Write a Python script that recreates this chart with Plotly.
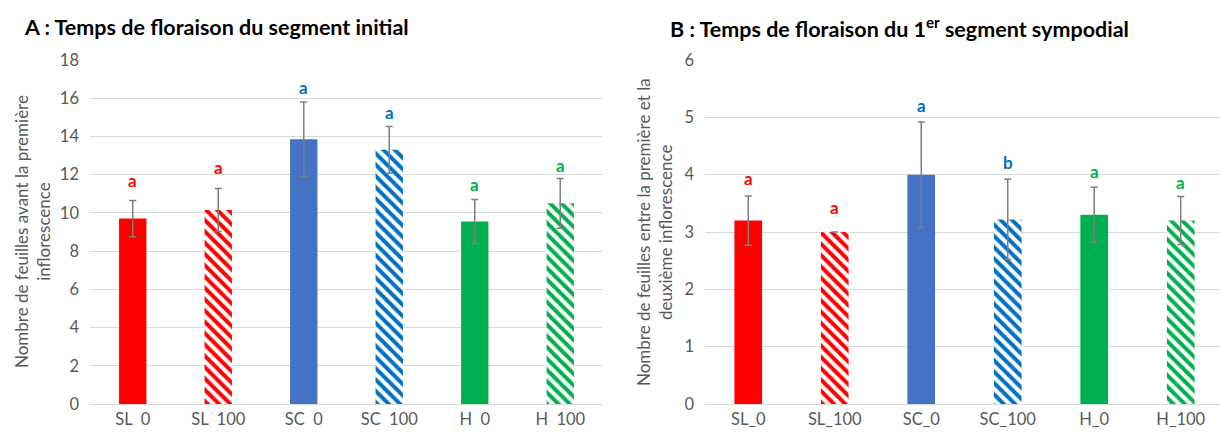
import plotly.graph_objects as go

W, H = 1220, 436

# Treatments
categories_a = ["SL\u00a0 0", "SL\u00a0 100", "SC\u00a0 0", "SC\u00a0 100", "H\u00a0 0", "H\u00a0 100"]
categories_b = ["SL_0", "SL_100", "SC_0", "SC_100", "H_0", "H_100"]

# A: leaves before the first inflorescence
means_a = [9.7, 10.15, 13.85, 13.3, 9.55, 10.5]
errors_a = [0.95, 1.13, 1.95, 1.22, 1.15, 1.3]
letters_a = ["a", "a", "a", "a", "a", "a"]
letter_pos_a = [11.72, 12.36, 16.55, 15.25, 11.5, 12.48]

# B: leaves between the first and second inflorescence
means_b = [3.2, 3.0, 4.0, 3.22, 3.3, 3.2]
errors_b = [0.43, 0.0, 0.92, 0.7, 0.48, 0.42]
letters_b = ["a", "a", "a", "b", "a", "a"]
letter_pos_b = [3.93, 3.43, 5.2, 4.22, 4.06, 3.87]

# Styling per bar: solid fill for 0, diagonal hatch for 100
bar_colors = ["#FF0000", "#FF0000", "#4472C4", "#0070C0", "#00B050", "#00B050"]
hatched = [False, True, False, True, False, True]
letter_colors = ["#FF0000", "#FF0000", "#0070C0", "#0070C0", "#00B050", "#00B050"]

FONT = "Lato"
GRID = "#D9D9D9"
TXT = "#595959"

fig = go.Figure()


def add_panel(means, errs, xa, ya):
    for i, (m, e) in enumerate(zip(means, errs)):
        if hatched[i]:
            marker = dict(color="#FFFFFF", opacity=1, line=dict(width=0),
                          pattern=dict(shape="\\", fgcolor=bar_colors[i], bgcolor="#FFFFFF",
                                       fgopacity=1, size=8, solidity=0.5))
        else:
            marker = dict(color=bar_colors[i], opacity=1, line=dict(width=0))
        fig.add_trace(go.Bar(
            x=[i], y=[m], width=0.32, marker=marker,
            error_y=dict(type="data", array=[e], visible=True,
                         color="#7F7F7F", thickness=1.5, width=3.5),
            xaxis=xa, yaxis=ya, showlegend=False, hoverinfo="skip",
        ))


add_panel(means_a, errors_a, "x", "y")
add_panel(means_b, errors_b, "x2", "y2")

ydom = [(H - 404) / H, (H - 60) / H]
axis_common = dict(showgrid=False, zeroline=False, showline=True, linecolor=GRID,
                   linewidth=1, ticks="", automargin=False, ticklabelstandoff=0,
                   tickfont=dict(family=FONT, size=16.5, color=TXT))
yaxis_common = dict(showgrid=True, gridcolor=GRID, gridwidth=1, zeroline=False,
                    showline=False, ticks="", ticklabelstandoff=10, automargin=False,
                    tickfont=dict(family=FONT, size=16.5, color=TXT))

fig.update_layout(
    width=W, height=H, margin=dict(l=0, r=0, t=0, b=0),
    paper_bgcolor="white", plot_bgcolor="white", barmode="overlay",
    xaxis=dict(domain=[90 / W, 603 / W], range=[-0.5, 5.5],
               tickvals=list(range(6)), ticktext=categories_a, **axis_common),
    yaxis=dict(domain=ydom, range=[0, 18], dtick=2, **yaxis_common),
    xaxis2=dict(domain=[705 / W, 1.0], range=[-0.5, 5.454], anchor="y2",
                tickvals=list(range(6)), ticktext=categories_b, **axis_common),
    yaxis2=dict(domain=ydom, range=[0, 6], dtick=1, anchor="x2", **yaxis_common),
)

annotations = []
for i in range(6):
    annotations.append(dict(x=i, y=letter_pos_a[i], xref="x", yref="y", text=f"<b>{letters_a[i]}</b>",
                            showarrow=False, font=dict(family=FONT, size=17, color=letter_colors[i])))
    annotations.append(dict(x=i, y=letter_pos_b[i], xref="x2", yref="y2", text=f"<b>{letters_b[i]}</b>",
                            showarrow=False, font=dict(family=FONT, size=17, color=letter_colors[i])))

ymid = (ydom[0] + ydom[1]) / 2
annotations += [
    dict(x=22 / W, y=1 - 27 / H, xref="paper", yref="paper", xanchor="left", yanchor="middle",
         text="<b>A : Temps de floraison du segment initial</b>", showarrow=False,
         font=dict(family=FONT, size=21.5, color="#000000")),
    dict(x=668 / W, y=1 - 27 / H, xref="paper", yref="paper", xanchor="left", yanchor="middle",
         text="<b>B : Temps de floraison du 1<sup>er</sup> segment sympodial</b>", showarrow=False,
         font=dict(family=FONT, size=21.5, color="#000000")),
    dict(x=33 / W, y=ymid, xref="paper", yref="paper", xanchor="center", yanchor="middle",
         textangle=-90,
         text="Nombre de feuilles avant la première<br>inflorescence", showarrow=False,
         font=dict(family=FONT, size=17, color=TXT)),
    dict(x=655 / W, y=ymid, xref="paper", yref="paper", xanchor="center", yanchor="middle",
         textangle=-90,
         text="Nombre de feuilles entre la première et la<br>deuxième inflorescence", showarrow=False,
         font=dict(family=FONT, size=17, color=TXT)),
]
fig.update_layout(annotations=annotations)

fig.write_html("out.html")
